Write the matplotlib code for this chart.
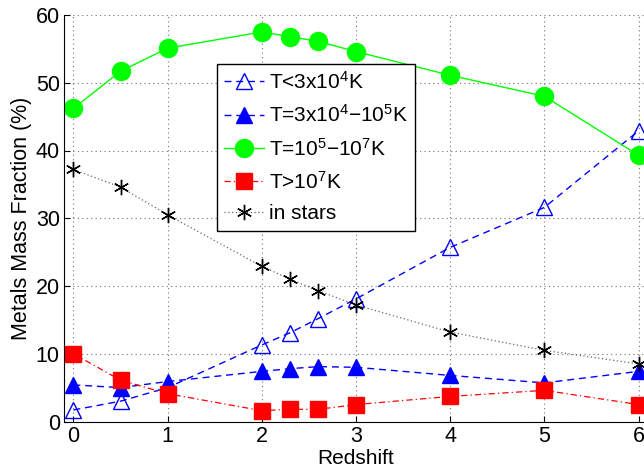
import matplotlib
matplotlib.use('Agg')
import matplotlib.pyplot as plt

plt.rcParams['font.family'] = 'Liberation Sans'
plt.rcParams['mathtext.fontset'] = 'custom'
plt.rcParams['mathtext.rm'] = 'Liberation Sans'
plt.rcParams['mathtext.it'] = 'Liberation Sans'
plt.rcParams['mathtext.default'] = 'rm'

# Redshift sample points
redshift = [0, 0.5, 1, 2, 2.3, 2.6, 3, 4, 5, 6]

# Metal mass fractions (%) per temperature phase
cold = [1.7, 3.0, 5.0, 11.3, 13.1, 15.2, 18.1, 25.7, 31.6, 42.9]
warm = [5.4, 5.0, 5.9, 7.4, 7.8, 8.1, 8.0, 6.8, 5.7, 7.4]
whim = [46.2, 51.7, 55.1, 57.5, 56.8, 56.1, 54.6, 51.1, 48.0, 39.3]
hot = [10.0, 6.1, 4.1, 1.6, 1.8, 1.8, 2.5, 3.7, 4.6, 2.5]
stars = [37.2, 34.6, 30.5, 22.9, 21.0, 19.3, 17.2, 13.2, 10.5, 8.5]

labels = ['T<3x10$^4$K',
          'T=3x10$^4$\u221210$^5$K',
          'T=10$^5$\u221210$^7$K',
          'T>10$^7$K',
          'in stars']

fig = plt.figure(figsize=(6.44, 4.67), dpi=100)
ax = fig.add_axes([64 / 644, 1 - 421.5 / 467, 584 / 644, 406.5 / 467])

ax.plot(redshift, cold, color='b', dashes=(5, 3.5), marker='^', markersize=12,
        markerfacecolor='none', markeredgecolor='b', mew=1.0, lw=1.0, label=labels[0])
ax.plot(redshift, warm, color='b', dashes=(5, 3.5), marker='^', markersize=12,
        markerfacecolor='b', markeredgecolor='b', lw=1.0, label=labels[1])
ax.plot(redshift, whim, '-', color='#00ff00', marker='o', markersize=13,
        markerfacecolor='#00ff00', markeredgecolor='#00ff00', lw=1.0, label=labels[2])
ax.plot(redshift, hot, color='r', dashes=(5, 2.5, 1, 2.5), marker='s', markersize=11,
        markerfacecolor='r', markeredgecolor='r', lw=0.9, label=labels[3])
ax.plot(redshift, stars, color='0.4', dashes=(1, 2), marker=(6, 2, 0), markersize=11,
        markeredgecolor='k', mew=1.0, lw=0.9, label=labels[4])

ax.set_xlim(-0.1, 6.1)
ax.set_ylim(0, 60)
ax.set_xticks(range(0, 7))
ax.set_yticks(range(0, 61, 10))
ax.tick_params(direction='in', labelsize=15.5, length=4, width=0.8, pad=3)
ax.grid(True, color='0.45', linewidth=0.8, dashes=(1, 3))
ax.spines['top'].set_visible(False)
ax.spines['right'].set_visible(False)

ax.set_xlabel('Redshift', fontsize=15, labelpad=2)
ax.set_ylabel('Metals Mass Fraction (%)', fontsize=15.5, labelpad=3)

leg = ax.legend(loc='upper left', bbox_to_anchor=(153 / 584, 1 - 48.5 / 406.5),
                fontsize=15, handlelength=1.9, handletextpad=0.25,
                labelspacing=0.55, borderpad=0.35, borderaxespad=0,
                fancybox=False, framealpha=1, edgecolor='k')
leg.get_frame().set_linewidth(1.0)

fig.savefig('out.png', dpi=100)
plt.close(fig)
